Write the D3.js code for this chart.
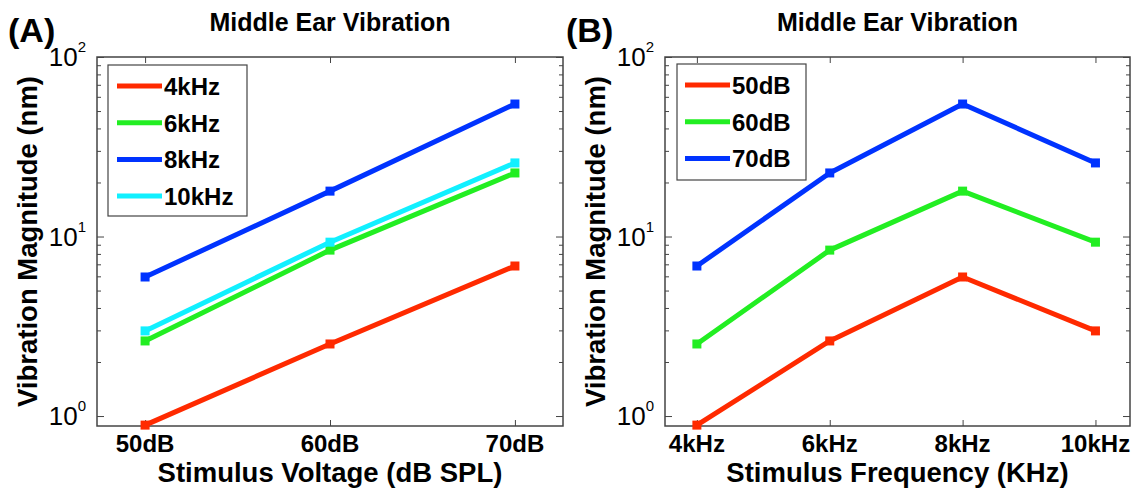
<!DOCTYPE html>
<html>
<head>
<meta charset="utf-8">
<script src="https://cdn.jsdelivr.net/npm/d3@7"></script>
<style>
  body { margin: 0; background: #fff; }
  svg { display: block; font-family: "Liberation Sans", Arial, Helvetica, sans-serif; }
</style>
</head>
<body>
<svg width="1140" height="491"></svg>
<script>
// stimulus levels and frequencies
var levels = ["50dB", "60dB", "70dB"]
var freqs = ["4kHz", "6kHz", "8kHz", "10kHz"]

// vibration magnitude (nm) per frequency, one value per level
var mag4k = [0.89, 2.52, 6.85]
var mag6k = [2.62, 8.4, 22.6]
var mag8k = [5.95, 17.9, 54.7]
var mag10k = [2.98, 9.3, 25.7]

var freqColors = ["#ff2a00", "#22ee22", "#0033ff", "#11f0ff"]
var levelColors = ["#ff2a00", "#22ee22", "#0033ff"]

var yMajor = [1, 10, 100]
var yMinor = [2, 3, 4, 5, 6, 7, 8, 9, 20, 30, 40, 50, 60, 70, 80, 90]

var svg = d3.select("svg")

// panel A: one line per frequency over levels
var seriesA = [mag4k, mag6k, mag8k, mag10k].map(function(v, i) {
  return {name: freqs[i], color: freqColors[i], values: v}
})
// panel B: one line per level over frequencies
var seriesB = levels.map(function(l, i) {
  return {name: l, color: levelColors[i], values: [mag4k[i], mag6k[i], mag8k[i], mag10k[i]]}
})

drawPanel({
  letter: "(A)", letterX: 8,
  left: 97, right: 563, top: 57, bottom: 426,
  xDomain: [-0.26, 2.26], xLabels: levels,
  xTitle: "Stimulus Voltage (dB SPL)",
  series: seriesA,
  legend: {x: 108, y: 65, w: 139, h: 151, lineX: 9}
})

drawPanel({
  letter: "(B)", letterX: 566,
  left: 665, right: 1130, top: 57, bottom: 426,
  xDomain: [-0.24, 3.26], xLabels: freqs,
  xTitle: "Stimulus Frequency (KHz)",
  series: seriesB,
  legend: {x: 677, y: 64, w: 129, h: 116, lineX: 8}
})

function drawPanel(p) {
  var x = d3.scaleLinear().domain(p.xDomain).range([p.left, p.right])
  var y = d3.scaleLog().domain([0.88, 100]).range([p.bottom, p.top])
  var g = svg.append("g")
  var idx = p.xLabels.map(function(d, i) { return i })

  // ticks on all four sides, pointing inward
  function styleTicks(sel) {
    sel.select(".domain").remove()
    sel.selectAll("line").attr("stroke", "#444").attr("stroke-width", 1)
    sel.selectAll("text").remove()
  }
  g.append("g").attr("transform", "translate(0," + p.bottom + ")")
    .call(d3.axisBottom(x).tickValues(idx).tickSizeInner(-6).tickSizeOuter(0))
    .call(styleTicks)
  g.append("g").attr("transform", "translate(0," + p.top + ")")
    .call(d3.axisTop(x).tickValues(idx).tickSizeInner(-6).tickSizeOuter(0))
    .call(styleTicks)
  ;[[d3.axisLeft, p.left], [d3.axisRight, p.right]].forEach(function(a) {
    g.append("g").attr("transform", "translate(" + a[1] + ",0)")
      .call(a[0](y).tickValues(yMajor).tickSizeInner(-7).tickSizeOuter(0))
      .call(styleTicks)
    g.append("g").attr("transform", "translate(" + a[1] + ",0)")
      .call(a[0](y).tickValues(yMinor).tickSizeInner(-4).tickSizeOuter(0))
      .call(styleTicks)
  })

  g.append("rect")
    .attr("x", p.left).attr("y", p.top)
    .attr("width", p.right - p.left).attr("height", p.bottom - p.top)
    .attr("fill", "none").attr("stroke", "#444").attr("stroke-width", 1.5)

  // x tick labels
  g.selectAll(".xlab").data(p.xLabels).enter().append("text")
    .attr("x", function(d, i) { return x(i) })
    .attr("y", p.bottom + 26)
    .attr("text-anchor", "middle")
    .attr("font-size", 24).attr("font-weight", "bold")
    .text(function(d) { return d })

  // y tick labels as 10^n
  var yl = g.selectAll(".ylab").data(yMajor).enter().append("text")
    .attr("x", p.left - 11)
    .attr("y", function(d) { return y(d) + 9 })
    .attr("text-anchor", "end")
  yl.append("tspan").attr("font-size", 26).text("10")
  yl.append("tspan").attr("font-size", 15).attr("dy", -14)
    .text(function(d) { return Math.round(Math.log10(d)) })

  // axis titles
  var cx = (p.left + p.right) / 2
  g.append("text").attr("x", cx).attr("y", 31)
    .attr("text-anchor", "middle").attr("font-size", 25).attr("font-weight", "bold")
    .text("Middle Ear Vibration")
  g.append("text").attr("x", cx).attr("y", p.bottom + 56)
    .attr("text-anchor", "middle").attr("font-size", 27.5).attr("font-weight", "bold")
    .text(p.xTitle)
  g.append("text")
    .attr("transform", "translate(" + (p.left - 60) + "," + ((p.top + p.bottom) / 2) + ") rotate(-90)")
    .attr("text-anchor", "middle").attr("font-size", 27.5).attr("font-weight", "bold")
    .text("Vibration Magnitude (nm)")
  g.append("text").attr("x", p.letterX).attr("y", 42)
    .attr("font-size", 34).attr("font-weight", "bold")
    .text(p.letter)

  // data lines with square markers
  var line = d3.line()
    .x(function(d, i) { return x(i) })
    .y(function(d) { return y(d) })
  p.series.forEach(function(s) {
    g.append("path").datum(s.values)
      .attr("d", line)
      .attr("fill", "none").attr("stroke", s.color).attr("stroke-width", 5)
      .attr("stroke-linejoin", "round")
    g.selectAll(null).data(s.values).enter().append("rect")
      .attr("x", function(d, i) { return x(i) - 4.5 })
      .attr("y", function(d) { return y(d) - 4.5 })
      .attr("width", 9).attr("height", 9)
      .attr("fill", s.color)
  })

  // legend
  var L = p.legend
  var lg = g.append("g").attr("transform", "translate(" + L.x + "," + L.y + ")")
  lg.append("rect").attr("width", L.w).attr("height", L.h)
    .attr("fill", "#fff").attr("stroke", "#444").attr("stroke-width", 1.2)
  p.series.forEach(function(s, i) {
    var ey = 21 + i * 36.7
    lg.append("line")
      .attr("x1", L.lineX).attr("x2", L.lineX + 45)
      .attr("y1", ey).attr("y2", ey)
      .attr("stroke", s.color).attr("stroke-width", 5)
    lg.append("text")
      .attr("x", L.lineX + 47).attr("y", ey + 9)
      .attr("font-size", 24).attr("font-weight", "bold")
      .text(s.name)
  })
}
</script>
</body>
</html>
